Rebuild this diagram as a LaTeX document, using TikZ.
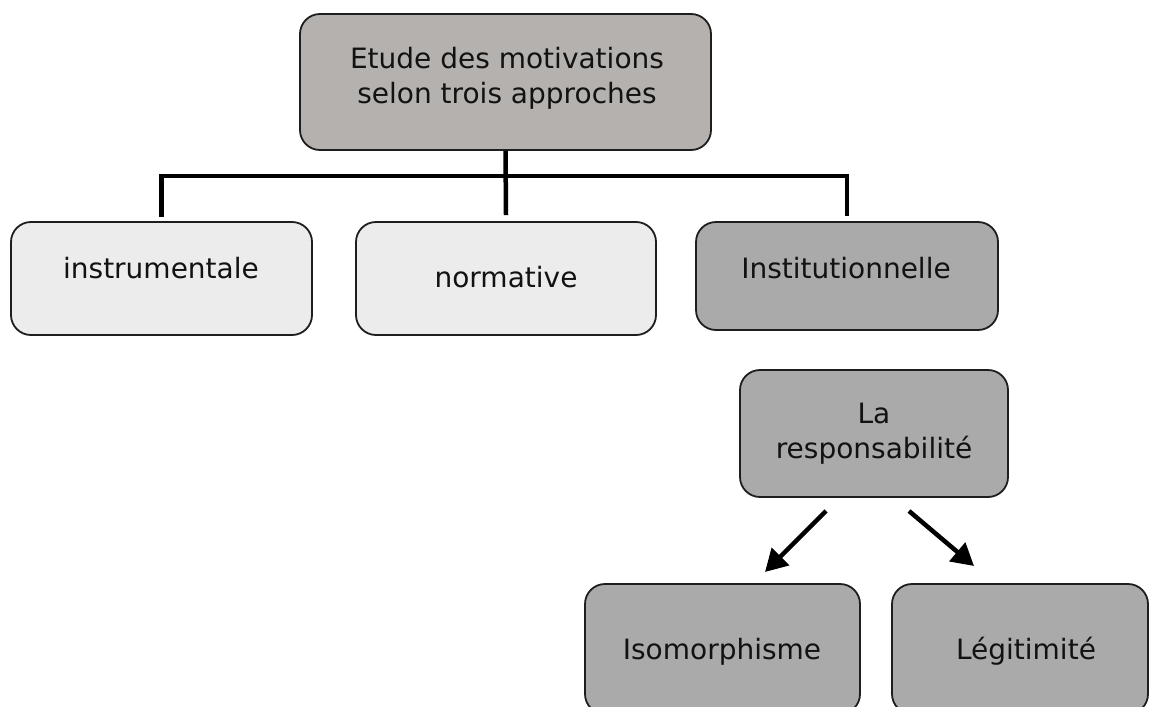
\documentclass[tikz,border=0pt]{standalone}
\usepackage{fontspec}
\setmainfont{DejaVu Sans}
\usetikzlibrary{arrows.meta}
\definecolor{topfill}{RGB}{181,177,175}
\definecolor{darkfill}{RGB}{170,170,170}
\definecolor{lightfill}{RGB}{236,236,236}
\definecolor{edge}{RGB}{30,30,30}
\definecolor{ink}{RGB}{18,18,18}
\begin{document}
\begin{tikzpicture}[x=1pt,y=-1pt,
  box/.style={draw=edge, line width=1.8pt, rounded corners=20pt, inner sep=0pt},
  txt/.style={text=ink, font=\fontsize{28}{35}\selectfont, inner sep=0pt},
  conn/.style={draw=black, line width=4.5pt, line join=miter},
  arr/.style={draw=black, line width=4.5pt, -{Triangle[length=22pt,width=24pt]}}]
\useasboundingbox (0,0) rectangle (1152,707);

% boxes
\node[box, fill=topfill,   minimum width=411pt, minimum height=136pt] (top)   at (505.5,82) {};
\node[box, fill=lightfill, minimum width=301pt, minimum height=113pt] (instr) at (161.5,278.5) {};
\node[box, fill=lightfill, minimum width=300pt, minimum height=113pt] (norm)  at (506,278.5) {};
\node[box, fill=darkfill,  minimum width=302pt, minimum height=108pt] (inst)  at (847,276) {};
\node[box, fill=darkfill,  minimum width=268pt, minimum height=127pt] (resp)  at (874,433.5) {};
\node[box, fill=darkfill,  minimum width=275pt, minimum height=130pt] (iso)   at (722.5,649) {};
\node[box, fill=darkfill,  minimum width=256pt, minimum height=130pt] (leg)   at (1020,649) {};

% labels
\node[txt, align=center] (ttop) at (507,78) {Etude des motivations\\selon trois approches};
\node[txt, anchor=base] (tinstr) at (161,278) {instrumentale};
\node[txt, anchor=base] (tnorm) at (506,287) {normative};
\node[txt, anchor=base] (tinst) at (846,278) {Institutionnelle};
\node[txt, align=center] (tresp) at (874,434) {La\\responsabilité};
\node[txt, anchor=base] (tiso) at (722,659) {Isomorphisme};
\node[txt, anchor=base] (tleg) at (1026,659) {Légitimité};

% tree connectors
\coordinate (hub) at (507,176);
\draw[conn] (top.south) -- ([yshift=6pt]norm.north);
\draw[conn] ([yshift=4pt]instr.north) |- (hub) -| ([yshift=5pt]inst.north);

% arrows
\coordinate (a1s) at (826,511);
\coordinate (a1e) at (765,572);
\coordinate (a2s) at (909,511);
\coordinate (a2e) at (974,566);
\draw[arr] (a1s) -- (a1e);
\draw[arr] (a2s) -- (a2e);
\end{tikzpicture}
\end{document}
